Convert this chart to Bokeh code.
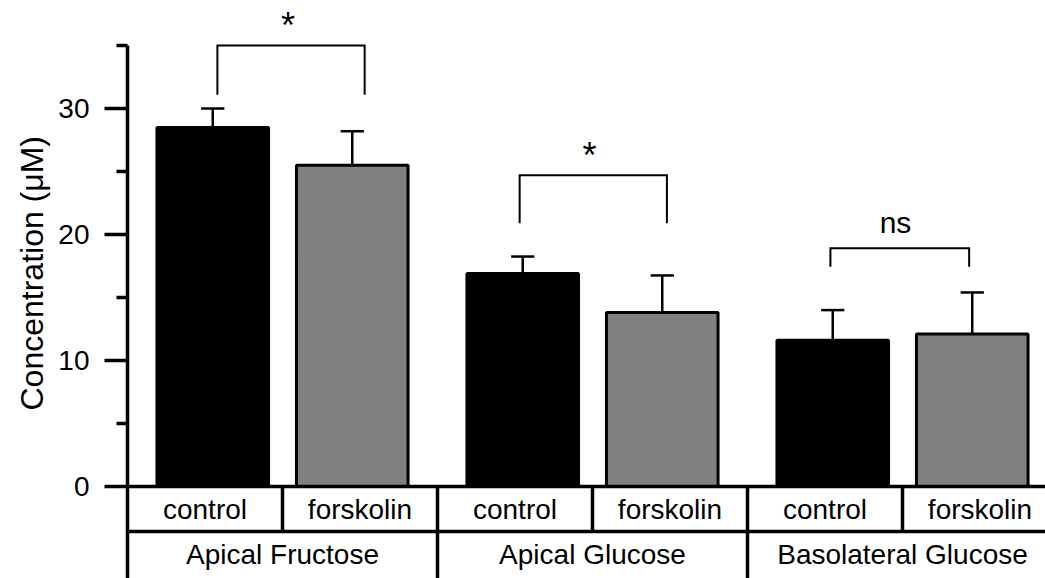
from bokeh.plotting import figure
from bokeh.models import Range1d, FixedTicker, Title
from bokeh.core.properties import value
from bokeh.embed import file_html
from bokeh.resources import INLINE

# ---- data ----
groups = ["Apical Fructose", "Apical Glucose", "Basolateral Glucose"]
conditions = ["control", "forskolin"]
control_mean = [28.5, 16.9, 11.6]
control_err = [1.5, 1.35, 2.4]
forskolin_mean = [25.5, 13.8, 12.1]
forskolin_err = [2.7, 2.95, 3.3]
sig_labels = ["*", "*", "ns"]
y_ticks = [0, 10, 20, 30]
y_minor_ticks = [5, 15, 25, 35]
y_label = "Concentration (\u03bcM)"

# ---- annotation layout (data coords) ----
bracket_x0 = [0.58, 2.53, 4.535]
bracket_x1 = [1.53, 3.48, 5.43]
bracket_top = [35.0, 24.7, 18.9]
bracket_bottom = [31.1, 20.9, 17.45]
sig_x = [1.036, 2.98, 4.955]
sig_y = [36.56, 26.25, 20.95]

FONT = "Liberation Sans"
GRAY = "#808080"

p = figure(width=1045, height=578, output_backend="svg", toolbar_location=None,
           x_axis_location=None, x_range=Range1d(0, 918 / 155), y_range=Range1d(-7.3, 38.57),
           min_border_left=127, min_border_right=0, min_border_top=0, min_border_bottom=0)
p.outline_line_color = None
p.xgrid.visible = False
p.ygrid.visible = False
p.background_fill_color = "white"

ax = p.yaxis[0]
ax.ticker = FixedTicker(ticks=y_ticks, minor_ticks=y_minor_ticks)
ax.bounds = (-7.3, 35)
ax.axis_line_width = 3.5
ax.axis_line_color = "black"
ax.major_tick_line_width = 3.5
ax.minor_tick_line_width = 3.5
ax.major_tick_out = 23
ax.major_tick_in = 0
ax.minor_tick_out = 11
ax.minor_tick_in = 0
ax.major_label_standoff = 15
ax.major_label_text_font = FONT
ax.major_label_text_font_size = "28px"
ax.major_label_text_color = "black"

# y-axis title as a side title (so it is not clipped to the frame)
p.add_layout(Title(text=y_label, align="left", offset=168, text_font=FONT,
                   text_font_size="32px", text_font_style="normal", text_color="black",
                   standoff=12), "left")

ng = len(groups)
ctrl_x = [2 * g + 1 - 0.45 for g in range(ng)]
fsk_x = [2 * g + 1 + 0.45 for g in range(ng)]

# bars
p.vbar(x=ctrl_x, top=control_mean, bottom=0, width=0.72, fill_color="black",
       line_color="black", line_width=3)
p.vbar(x=fsk_x, top=forskolin_mean, bottom=0, width=0.72, fill_color=GRAY,
       line_color="black", line_width=3)

# error bars (upper only)
cap = 0.075
for xs, m, e in [(ctrl_x, control_mean, control_err), (fsk_x, forskolin_mean, forskolin_err)]:
    tops = [a + b for a, b in zip(m, e)]
    p.segment(x0=xs, y0=m, x1=xs, y1=tops, line_color="black", line_width=2.5)
    p.segment(x0=[x - cap for x in xs], y0=tops, x1=[x + cap for x in xs], y1=tops,
              line_color="black", line_width=2.5)

# significance brackets
p.multi_line(xs=[[a, a, b, b] for a, b in zip(bracket_x0, bracket_x1)],
             ys=[[lo, hi, hi, lo] for lo, hi in zip(bracket_bottom, bracket_top)],
             line_color="black", line_width=2, line_join="miter")
star_idx = [i for i, s in enumerate(sig_labels) if s == "*"]
ns_idx = [i for i, s in enumerate(sig_labels) if s != "*"]
p.text(x=[sig_x[i] for i in star_idx], y=[sig_y[i] for i in star_idx],
       text=[sig_labels[i] for i in star_idx], text_font=value(FONT), text_font_size="36px",
       text_align="center", text_baseline="alphabetic", text_color="black")
p.text(x=[sig_x[i] for i in ns_idx], y=[sig_y[i] for i in ns_idx],
       text=[sig_labels[i] for i in ns_idx], text_font=value(FONT), text_font_size="30px",
       text_align="center", text_baseline="alphabetic", text_color="black")

# category table below the axis
row_sep = -3.57
ymin = -7.3
ncells = 2 * ng
p.segment(x0=[0, 0], y0=[0, row_sep], x1=[ncells, ncells], y1=[0, row_sep],
          line_color="black", line_width=3.5)
p.segment(x0=list(range(1, ncells)), y0=[0] * (ncells - 1),
          x1=list(range(1, ncells)), y1=[row_sep] * (ncells - 1),
          line_color="black", line_width=3.5)
p.segment(x0=[2 * g for g in range(1, ng)], y0=[row_sep] * (ng - 1),
          x1=[2 * g for g in range(1, ng)], y1=[ymin] * (ng - 1),
          line_color="black", line_width=3.5)
p.text(x=[i + 0.5 for i in range(ncells)], y=[-1.83] * ncells,
       text=[conditions[i % 2] for i in range(ncells)], text_font=value(FONT),
       text_font_size="28px", text_align="center", text_baseline="alphabetic", text_color="black")
p.text(x=[2 * g + 1 for g in range(ng)], y=[-5.40] * ng, text=groups,
       text_font=value(FONT), text_font_size="28px", text_align="center",
       text_baseline="alphabetic", text_color="black")

open("out.html", "w").write(file_html(p, INLINE))
